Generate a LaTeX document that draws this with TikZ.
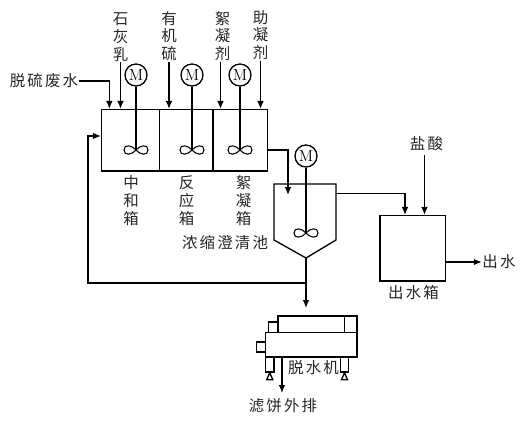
\documentclass[tikz,border=0pt]{standalone}
\usepackage{fontspec}
\newfontfamily\cjk[LetterSpace=14]{Noto Sans CJK SC}
\usetikzlibrary{arrows.meta,calc}
\tikzset{
  flow/.style={-{Latex[length=6pt,width=5pt]}},
  lab/.style={font=\cjk\fontsize{11.6}{13.4}\selectfont,align=center,inner sep=0pt,text=black!85},
  tank/.style={draw,inner sep=0pt,minimum height=#1},
  motor/.style={draw,circle,inner sep=0pt,minimum size=16.5pt,font=\fontsize{12}{12}\selectfont},
  blade/.pic={\draw[line width=.8pt](0,0)..controls(4,-5)and(12,-6)..(12,0)..controls(12,6)and(4,5)..(0,0)..controls(-4,-5)and(-12,-6)..(-12,0)..controls(-12,6)and(-4,5)..(0,0);}
}
\begin{document}
\begin{tikzpicture}[x=.75pt,y=-.75pt,line width=1pt,line join=miter]
\useasboundingbox(0,0)rectangle(522,421);
% reaction tanks
\node[tank=46pt,minimum width=43.5pt](t1)at(130.5,140.25){};\node[tank=46pt,minimum width=40pt](t2)at(186.25,140.25){};\node[tank=46pt,minimum width=41pt](t3)at(240.25,140.25){};
\node[motor](m1)at(136,75){M};\node[motor](m2)at(192,75){M};\node[motor](m3)at(240,75){M};\node[motor](m4)at(306,156){M};
\coordinate(s1)at(136,150);\coordinate(s2)at(192,150);\coordinate(s3)at(240,150);\coordinate(s4)at(306,233);
\draw(m1)--(s1);\draw(m2)--(s2);\draw(m3)--(s3);\draw(m4)--(s4);
\path(s1)pic{blade};\path(s2)pic{blade};\path(s3)pic{blade};\path(s4)pic{blade};
% feeds
\node[lab](ws)at(44,81){脱硫废水};\node[lab](lime)at(120.5,37){石\\灰\\乳};\node[lab](org)at(169,36){有\\机\\硫};\node[lab](floc)at(222.5,36){絮\\凝\\剂};\node[lab](aid)at(260.5,35){助\\凝\\剂};
\draw[flow](ws.east)-|($(t1.north west)+(8.5,0)$);
\draw[flow](lime.south)--(lime.south|-t1.north);\draw[flow](org.south)--(org.south|-t2.north);
\draw[flow]($(floc.south)+(-2,0)$)--($(floc.south|-t3.north)+(-2,0)$);\draw[flow](aid.south)--(aid.south|-t3.north);
\node[lab](t1l)at(131,200.5){中\\和\\箱};\node[lab](t2l)at(186.5,201){反\\应\\箱};\node[lab](t3l)at(243.5,200.5){絮\\凝\\箱};
% clarifier
\draw(274,184)coordinate(c1)--(274,240)--(306,258)coordinate(c2)--(336,240)--(336,184)coordinate(c3)--cycle;
\node[lab](cl)at(225,243){浓缩澄清池};
\coordinate(d1)at(288,195);
\draw[flow](t3.east|-s3)-|(d1);
% outlet tank
\node[tank=49pt,minimum width=49pt](out)at(412.75,248.25){};
\node[lab](outl)at(413.5,293){出水箱};\node[lab](hcl)at(426.5,144){盐酸};\node[lab](ow)at(499,262){出水};
\coordinate(o1)at(336,193.5);\coordinate(o2)at(405,193.5);
\draw[flow](o1)--(o2)--(o2|-out.north);
\draw[flow](424.5,155)coordinate(h1)--(h1|-out.north);
\draw[flow](out.east|-ow)--(ow.west);
% sludge line and return
\coordinate(r1)at(306,283);\coordinate(r2)at(88,283);\coordinate(d2)at(306,308);
\draw[flow](c2)--(d2);
\draw[flow](r1)--(r2)--(r2|-136,136)--(t1.west|-136,136);
% dewatering machine
\node[tank=12.4pt,minimum width=59.25pt](f1)at(317.5,324.25){};\node[tank=18.4pt,minimum width=68.6pt](f2)at(311.25,344.75){};
\node[tank=7.9pt,minimum width=7.1pt](f3)at(273.25,327.25){};\node[tank=7.5pt,minimum width=6.75pt](f4)at(261,347){};
\draw(344.5,316)coordinate(f5)--(f5|-f1.south);
\node[tank=11.25pt,minimum width=6.4pt](l1)at(269.75,364.5){};\node[tank=11.25pt,minimum width=6.4pt](l2)at(344.5,364.5){};
\draw(l1.south)--++(-3,7)--++(6,0)--cycle;\draw(l2.south)--++(-3,7)--++(6,0)--cycle;
\node[lab](fl)at(313.5,368){脱水机};\node[lab](cake)at(283,406){滤饼外排};
\draw[flow](282,357)coordinate(f6)--(282,393);
\end{tikzpicture}
\end{document}
